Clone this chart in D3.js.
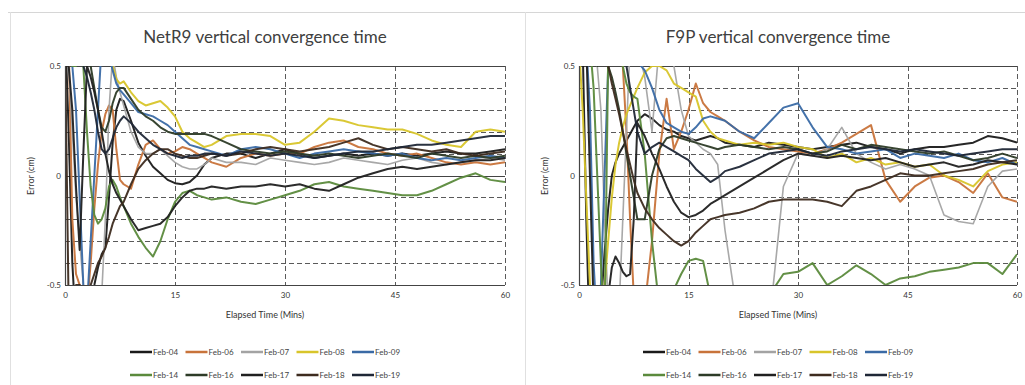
<!DOCTYPE html>
<html><head><meta charset="utf-8">
<script src="https://cdn.jsdelivr.net/npm/d3@7"></script>
<style>body{margin:0;background:#fff;} svg{display:block;font-family:Lato,"Open Sans",sans-serif;}</style>
</head><body>
<svg id="c" width="1025" height="385"></svg>
<script>
// ---- DATA ----
const times = [0,0.5,1,1.5,2,2.5,3,3.5,4,4.5,5,5.5,6,6.5,7,7.5,8,9,10,11,12,13,14,15,16,17,18,19,20,22,24,26,28,30,32,34,36,38,40,42,44,46,48,50,52,54,56,58,60];
const seriesNames = ["Feb-04","Feb-06","Feb-07","Feb-08","Feb-09","Feb-14","Feb-16","Feb-17","Feb-18","Feb-19"];
const seriesColors = ["#1a1a1a","#c8733a","#a3a3a3","#d8c52a","#3a6aa5","#5b8a3c","#2d3b27","#202020","#3d2b1f","#1f2736"];
const xTickValues = [0,15,30,45,60];
const xTickLabels = ["0","15","30","45","60"];
const yTickValues = [-0.5,0,0.5];
const yTickLabels = ["-0.5","0","0.5"];
const titles = ["NetR9 vertical convergence time","F9P vertical convergence time"];

const netr9_feb04 = [0.7,0.2,-0.4,-0.7,-0.8,-0.7,-0.6,-0.55,-0.5,-0.42,-0.36,-0.33,-0.1,0.15,0.3,0.35,0.34,0.25,0.15,0.09,0.04,0.01,-0.02,-0.035,-0.04,-0.03,0.0,0.05,0.08,0.1,0.1,0.08,0.1,0.12,0.1,0.08,0.09,0.1,0.09,0.1,0.09,0.1,0.09,0.1,0.11,0.1,0.1,0.11,0.12];
const netr9_feb06 = [0.5,0.6,-0.2,-0.45,-0.5,-0.55,-0.6,-0.4,-0.15,0.05,0.2,0.28,0.32,0.3,0.12,-0.02,-0.04,-0.06,0.05,0.14,0.16,0.12,0.1,0.11,0.13,0.12,0.1,0.08,0.06,0.04,0.08,0.1,0.09,0.1,0.1,0.13,0.15,0.16,0.13,0.12,0.1,0.09,0.1,0.08,0.06,0.05,0.06,0.05,0.06];
const netr9_feb07 = [0.6,0.5,0.2,-0.1,-0.3,-0.5,-0.65,-0.7,-0.65,-0.6,-0.55,-0.2,0.3,0.55,0.45,0.38,0.32,0.2,0.13,0.1,0.1,0.12,0.09,0.06,0.04,0.03,0.03,0.05,0.08,0.06,0.06,0.05,0.08,0.07,0.06,0.05,0.06,0.08,0.07,0.06,0.05,0.07,0.08,0.06,0.05,0.06,0.07,0.08,0.07];
const netr9_feb08 = [0.8,0.8,0.85,0.9,0.9,0.85,0.8,0.75,0.7,0.65,0.6,0.58,0.55,0.5,0.44,0.42,0.43,0.38,0.34,0.32,0.33,0.34,0.31,0.27,0.2,0.17,0.15,0.13,0.14,0.18,0.19,0.19,0.18,0.14,0.15,0.2,0.26,0.25,0.23,0.22,0.21,0.21,0.19,0.16,0.14,0.13,0.2,0.21,0.2];
const netr9_feb09 = [0.7,0.6,0.5,0.3,-0.1,-0.5,-0.6,-0.3,0.0,0.3,0.6,0.6,0.55,0.48,0.42,0.39,0.37,0.33,0.29,0.28,0.27,0.25,0.23,0.2,0.17,0.14,0.13,0.12,0.11,0.09,0.12,0.13,0.12,0.1,0.08,0.1,0.11,0.12,0.11,0.1,0.09,0.1,0.08,0.07,0.08,0.07,0.08,0.09,0.08];
const netr9_feb14 = [0.7,0.6,0.5,0.5,0.55,0.5,0.2,-0.05,-0.18,-0.22,-0.2,-0.15,-0.05,-0.02,-0.05,-0.1,-0.14,-0.22,-0.28,-0.33,-0.37,-0.3,-0.2,-0.12,-0.08,-0.07,-0.09,-0.1,-0.11,-0.1,-0.12,-0.13,-0.11,-0.09,-0.07,-0.04,-0.03,-0.05,-0.06,-0.07,-0.08,-0.09,-0.09,-0.07,-0.04,-0.01,0.01,-0.02,-0.03];
const netr9_feb16 = [0.8,0.9,0.8,0.7,0.65,0.6,0.55,0.5,0.4,0.3,0.22,0.2,0.25,0.33,0.38,0.4,0.4,0.35,0.3,0.27,0.25,0.22,0.2,0.19,0.19,0.19,0.19,0.19,0.18,0.15,0.12,0.11,0.1,0.11,0.1,0.09,0.1,0.09,0.08,0.09,0.1,0.09,0.08,0.1,0.09,0.08,0.09,0.08,0.09];
const netr9_feb17 = [0.6,0.5,0.3,-0.05,-0.34,0.1,0.5,0.45,0.38,0.3,0.2,0.1,0.02,-0.04,-0.08,-0.11,-0.14,-0.2,-0.25,-0.24,-0.23,-0.22,-0.19,-0.14,-0.1,-0.07,-0.06,-0.06,-0.05,-0.06,-0.05,-0.05,-0.04,-0.05,-0.04,-0.06,-0.07,-0.04,-0.01,0.01,0.03,0.04,0.03,0.04,0.05,0.06,0.07,0.07,0.08];
const netr9_feb18 = [0.6,-0.6,-0.55,-0.5,-0.5,-0.52,-0.55,-0.5,-0.45,-0.4,-0.37,-0.33,-0.28,-0.22,-0.18,-0.14,-0.12,-0.04,0.03,0.07,0.1,0.12,0.12,0.1,0.09,0.08,0.08,0.09,0.1,0.09,0.1,0.12,0.13,0.12,0.11,0.12,0.13,0.15,0.17,0.14,0.12,0.13,0.12,0.11,0.12,0.1,0.09,0.1,0.11];
const netr9_feb19 = [0.6,0.55,0.6,0.6,0.55,0.5,0.45,0.38,0.3,0.2,0.12,0.1,0.12,0.17,0.22,0.25,0.27,0.24,0.2,0.17,0.14,0.12,0.1,0.09,0.08,0.09,0.09,0.1,0.1,0.09,0.11,0.1,0.09,0.1,0.09,0.08,0.09,0.1,0.11,0.11,0.12,0.13,0.14,0.14,0.15,0.16,0.17,0.18,0.18];

const f9p_feb04 = [0.8,0.6,-0.2,-0.8,-0.9,-0.8,-0.6,-0.35,-0.15,0.0,0.06,0.1,0.13,0.16,0.19,0.22,0.25,0.28,0.26,0.23,0.21,0.2,0.18,0.17,0.16,0.17,0.18,0.17,0.15,0.14,0.13,0.15,0.14,0.13,0.12,0.13,0.14,0.15,0.13,0.12,0.1,0.12,0.13,0.13,0.14,0.15,0.18,0.17,0.15];
const f9p_feb06 = [0.8,0.9,0.9,0.85,0.8,0.8,0.75,0.7,0.65,0.6,0.6,0.55,0.5,0.2,-0.2,-0.55,-0.7,-0.6,-0.3,0.1,0.35,0.12,0.2,0.3,0.42,0.33,0.29,0.27,0.25,0.2,0.16,0.13,0.12,0.11,0.1,0.12,0.15,0.19,0.23,-0.02,-0.12,-0.05,-0.01,0.0,-0.03,-0.08,0.01,-0.1,-0.12];
const f9p_feb07 = [0.8,0.8,0.7,0.6,0.6,0.5,0.3,-0.2,-0.6,-0.8,-0.8,-0.6,-0.2,0.2,0.6,0.7,0.6,0.45,0.2,0.6,0.7,0.5,0.3,0.18,0.15,0.12,0.1,0.05,-0.25,-0.7,-0.8,-0.7,-0.05,0.1,0.09,0.12,0.22,0.1,0.06,0.03,0.05,0.03,0.0,-0.18,-0.21,-0.22,-0.05,0.02,0.03];
const f9p_feb08 = [0.6,0.3,-0.1,-0.5,-0.7,-0.8,-0.7,-0.5,-0.3,-0.1,0.05,0.15,0.22,0.28,0.32,0.36,0.4,0.47,0.5,0.5,0.48,0.42,0.4,0.38,0.36,0.25,0.2,0.17,0.16,0.14,0.15,0.14,0.15,0.13,0.12,0.08,0.1,0.06,0.08,0.05,0.06,0.04,0.05,0.0,-0.02,-0.05,0.02,0.05,0.06];
const f9p_feb09 = [0.8,0.7,0.6,0.3,-0.4,-0.7,-0.5,0.0,0.5,0.8,0.8,0.7,0.65,0.6,0.58,0.55,0.52,0.48,0.4,0.3,0.24,0.22,0.2,0.19,0.22,0.26,0.27,0.26,0.25,0.2,0.17,0.24,0.31,0.33,0.22,0.13,0.12,0.1,0.11,0.12,0.08,0.1,0.09,0.08,0.1,0.07,0.06,0.08,0.05];
const f9p_feb14 = [0.7,0.7,0.7,0.6,0.4,0.0,-0.4,-0.7,0.55,0.8,0.7,0.6,0.5,0.42,0.38,0.36,0.35,0.1,-0.3,-0.6,-0.7,-0.52,-0.45,-0.39,-0.38,-0.39,-0.55,-0.7,-0.8,-0.8,-0.7,-0.55,-0.45,-0.44,-0.4,-0.5,-0.46,-0.41,-0.45,-0.5,-0.47,-0.46,-0.44,-0.43,-0.42,-0.4,-0.4,-0.45,-0.36];
const f9p_feb16 = [0.9,0.8,0.7,0.6,0.55,0.5,0.52,0.55,0.5,0.45,0.38,0.3,0.2,0.1,0.0,-0.1,-0.2,-0.2,0.0,0.12,0.17,0.18,0.17,0.16,0.15,0.14,0.13,0.12,0.13,0.14,0.13,0.12,0.13,0.12,0.1,0.11,0.14,0.12,0.14,0.13,0.12,0.11,0.1,0.11,0.09,0.07,0.08,0.1,0.08];
const f9p_feb17 = [0.9,0.9,0.6,0.0,-0.6,-0.8,-0.8,-0.7,-0.55,-0.42,-0.37,-0.4,-0.44,-0.46,-0.45,-0.2,0.24,0.18,0.1,0.03,-0.05,-0.12,-0.17,-0.19,-0.18,-0.16,-0.13,-0.11,-0.09,-0.05,-0.01,0.03,0.07,0.1,0.09,0.08,0.09,0.08,0.07,0.08,0.06,0.04,0.05,0.06,0.04,0.05,0.07,0.06,0.05];
const f9p_feb18 = [0.9,0.85,0.8,0.75,0.7,0.65,0.6,0.55,0.5,0.42,0.35,0.28,0.2,0.12,0.05,-0.02,-0.08,-0.15,-0.2,-0.24,-0.27,-0.3,-0.32,-0.3,-0.26,-0.23,-0.2,-0.19,-0.18,-0.17,-0.15,-0.12,-0.11,-0.11,-0.11,-0.12,-0.14,-0.07,-0.05,-0.02,0.01,0.0,0.0,0.01,0.02,0.03,0.05,0.06,0.07];
const f9p_feb19 = [0.9,0.9,0.9,0.85,0.85,0.8,0.8,0.75,0.75,0.7,0.7,0.65,0.6,0.5,0.4,0.3,0.2,0.1,0.13,0.15,0.13,0.11,0.09,0.07,0.03,0.0,-0.03,-0.01,0.02,0.04,0.07,0.1,0.11,0.12,0.1,0.09,0.11,0.12,0.13,0.12,0.11,0.12,0.11,0.1,0.09,0.1,0.11,0.12,0.12];

const netr9Series = [netr9_feb04,netr9_feb06,netr9_feb07,netr9_feb08,netr9_feb09,netr9_feb14,netr9_feb16,netr9_feb17,netr9_feb18,netr9_feb19];
const f9pSeries = [f9p_feb04,f9p_feb06,f9p_feb07,f9p_feb08,f9p_feb09,f9p_feb14,f9p_feb16,f9p_feb17,f9p_feb18,f9p_feb19];

// ---- DRAW ----
const svg = d3.select("#c");
// outer frame lines
svg.append("line").attr("x1",8).attr("x2",1025).attr("y1",12.5).attr("y2",12.5).attr("stroke","#d6d6d6");
svg.append("line").attr("x1",10.5).attr("x2",10.5).attr("y1",12).attr("y2",385).attr("stroke","#e0e0e0");
svg.append("line").attr("x1",525.5).attr("x2",525.5).attr("y1",12).attr("y2",385).attr("stroke","#e0e0e0");

const panels = [
  {title:titles[0], data:netr9Series, x0:65, x1:505, legendX:130},
  {title:titles[1], data:f9pSeries, x0:579, x1:1017, legendX:643}
];
const yTop = 66, yBot = 285;
const gridVals = [-0.4,-0.3,-0.2,-0.1,0.1,0.2,0.3,0.4];

panels.forEach((p,pi)=>{
  const g = svg.append("g");
  const x = d3.scaleLinear().domain([0,60]).range([p.x0,p.x1]);
  const y = d3.scaleLinear().domain([-0.5,0.5]).range([yBot,yTop]);
  // title
  g.append("text").attr("x",(p.x0+p.x1)/2 - 20).attr("y",43).attr("text-anchor","middle")
    .attr("font-size",17).attr("fill","#404040").text(p.title);
  // horizontal dashed grid
  g.selectAll(".hg").data(gridVals).join("line")
    .attr("x1",p.x0).attr("x2",p.x1).attr("y1",d=>Math.round(y(d))+0.5).attr("y2",d=>Math.round(y(d))+0.5)
    .attr("stroke","#5a5a5a").attr("stroke-width",1).attr("stroke-dasharray","5,3");
  // vertical dashed grid
  g.selectAll(".vg").data(xTickValues.slice(1)).join("line")
    .attr("x1",d=>Math.round(x(d))+0.5).attr("x2",d=>Math.round(x(d))+0.5).attr("y1",yTop).attr("y2",yBot)
    .attr("stroke","#5a5a5a").attr("stroke-width",1).attr("stroke-dasharray","5,3");
  // solid lines: top, zero, bottom
  g.selectAll(".sg").data(yTickValues).join("line")
    .attr("x1",p.x0).attr("x2",p.x1).attr("y1",d=>Math.round(y(d))+0.5).attr("y2",d=>Math.round(y(d))+0.5)
    .attr("stroke","#444").attr("stroke-width",1.2);
  // clip
  const cid = "clip"+pi;
  svg.append("clipPath").attr("id",cid).append("rect")
    .attr("x",p.x0).attr("y",yTop).attr("width",p.x1-p.x0).attr("height",yBot-yTop);
  const line = d3.line().x((d,i)=>x(times[i])).y(d=>y(d));
  const lg = g.append("g").attr("clip-path",`url(#${cid})`);
  p.data.forEach((s,si)=>{
    lg.append("path").datum(s).attr("d",line).attr("fill","none")
      .attr("stroke",seriesColors[si]).attr("stroke-width",si===2?1.6:2)
      .attr("stroke-linejoin","round").attr("opacity",0.95);
  });
  // left axis line
  g.append("line").attr("x1",p.x0+0.5).attr("x2",p.x0+0.5).attr("y1",yTop).attr("y2",yBot).attr("stroke","#444").attr("stroke-width",1.2);
  // axes labels
  const ya = d3.axisLeft(y).tickValues(yTickValues).tickSize(0).tickPadding(4)
    .tickFormat((d,i)=>yTickLabels[i]);
  const yg = g.append("g").attr("transform",`translate(${p.x0},0)`).call(ya);
  yg.select(".domain").remove();
  yg.selectAll("text").attr("font-size",8).attr("fill","#333").attr("font-family","Lato");
  const xa = d3.axisBottom(x).tickValues(xTickValues).tickSize(0).tickPadding(7)
    .tickFormat((d,i)=>xTickLabels[i]);
  const xg = g.append("g").attr("transform",`translate(0,${yBot})`).call(xa);
  xg.select(".domain").remove();
  xg.selectAll("text").attr("font-size",8).attr("fill","#333").attr("font-family","Lato");
  // axis titles
  g.append("text").attr("x",(p.x0+p.x1)/2 - 20).attr("y",318).attr("text-anchor","middle")
    .attr("font-size",9).attr("fill","#333").text("Elapsed Time (Mins)");
  g.append("text").attr("transform",`translate(${p.x0-31},176) rotate(-90)`).attr("text-anchor","middle")
    .attr("font-size",9).attr("fill","#333").text("Error (cm)");
  // legend
  seriesNames.forEach((n,i)=>{
    const row = Math.floor(i/5), col = i%5;
    const lx = p.legendX + col*55.5, ly = row===0?352:375;
    g.append("line").attr("x1",lx).attr("x2",lx+22).attr("y1",ly).attr("y2",ly)
      .attr("stroke",seriesColors[i]).attr("stroke-width",2.5);
    g.append("text").attr("x",lx+23).attr("y",ly+3).attr("font-size",8).attr("fill","#444").text(n);
  });
});
</script>
</body></html>
